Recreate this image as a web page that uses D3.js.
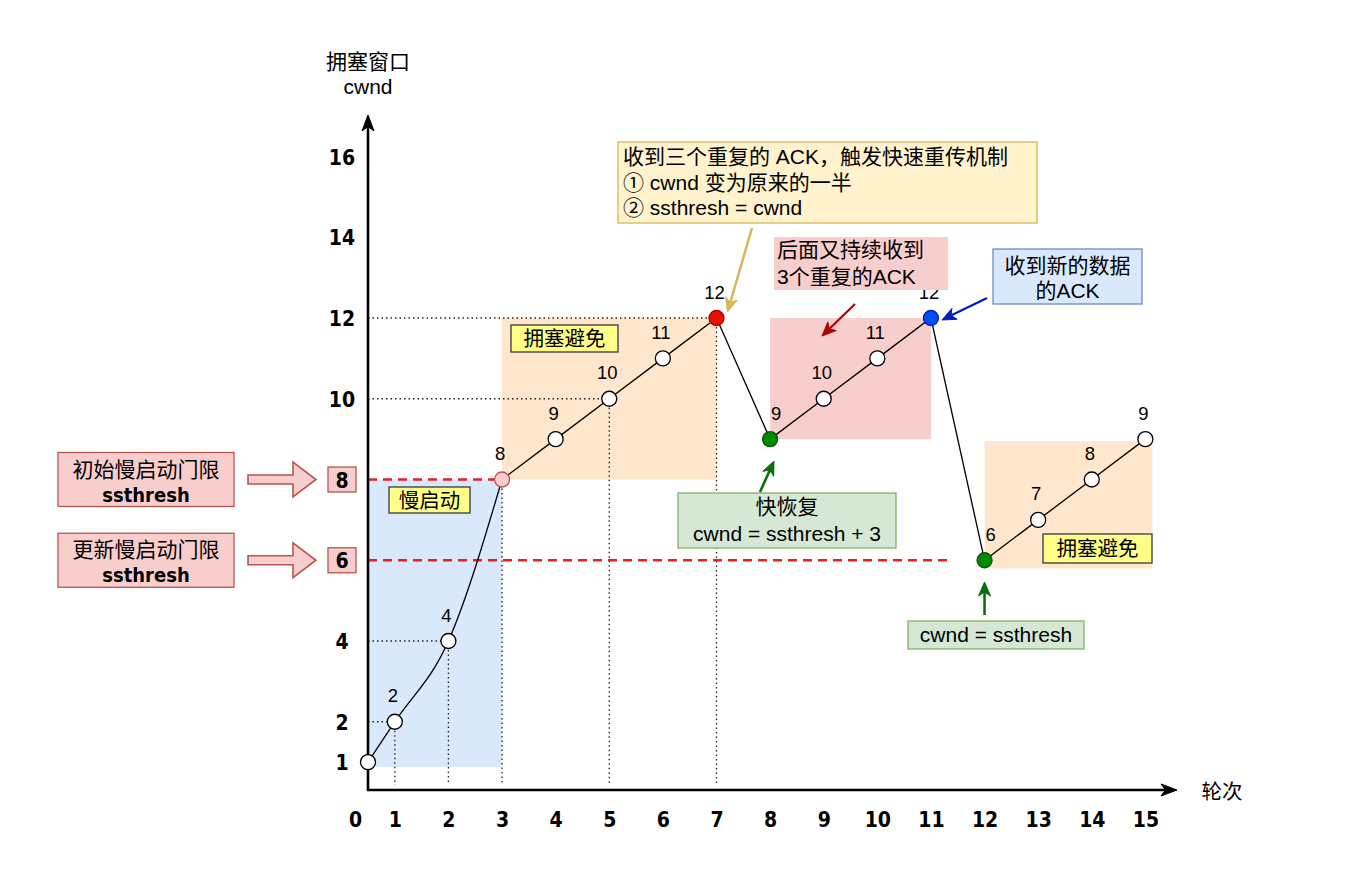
<!DOCTYPE html>
<html><head><meta charset="utf-8">
<script src="https://cdn.jsdelivr.net/npm/d3@7"></script>
<style>
html,body{margin:0;padding:0;background:#fff;}
svg{display:block;}
text{font-family:"Liberation Sans","Noto Sans CJK SC",sans-serif;fill:#000;}
.bold{font-family:"DejaVu Sans Condensed","DejaVu Sans",sans-serif;font-weight:bold;}
</style></head><body>
<svg id="chart" width="1355" height="871"></svg>
<script>
// ---------------- data ----------------
const rounds = [0,1,2,3,4,5,6,7,8,9,10,11,12,13,14,15];
const cwnd   = [1,2,4,8,9,10,11,12,9,10,11,12,6,7,8,9];
const xTickValues = [0,1,2,3,4,5,6,7,8,9,10,11,12,13,14,15];
const yTickValues = [1,2,4,6,8,10,12,14,16];
const ssthreshLevels = [8, 6];
const ssthreshEndRounds = [3, 11.3];
const ssthreshNotes = ["初始慢启动门限", "更新慢启动门限"];
const phaseNames  = ["慢启动", "拥塞避免", "快恢复", "拥塞避免"];
const phaseRounds = [[0,3],[3,7],[8,11],[12,15.13]];
const phaseCwnd   = [[0.88,8],[8,12],[9,12],[5.8,8.95]];
const guideRounds = [1,2,3,5,7];
const guideLevels = [2,4,10,12];
const eventIndex = {firstThreshold:3, tripleDupAck:7, fastRecovery:8, newAck:11, resetThreshold:12};

// ---------------- scales ----------------
const svg = d3.select("#chart");
const x = d3.scaleLinear().domain([0.5,16]).range([368,1199]).clamp(true);
const y = d3.scaleLinear().domain([0,16]).range([802.5,156.5]);
const AXIS_Y = 790, AXIS_TOP = 115, AXIS_RIGHT = 1177, GUIDE_BOTTOM = 785;

function arrow(g, x1, y1, x2, y2, color, w, len, half){
  const a = Math.atan2(y2-y1, x2-x1), c = Math.cos(a), s = Math.sin(a);
  const notch = len*0.72;
  g.append("line").attr("x1",x1).attr("y1",y1)
    .attr("x2",x2-c*notch).attr("y2",y2-s*notch)
    .attr("stroke",color).attr("stroke-width",w);
  const bx = x2-c*len, by = y2-s*len, px = -s, py = c;
  g.append("path")
    .attr("d",`M${x2},${y2}L${bx+px*half},${by+py*half}L${x2-c*notch},${y2-s*notch}L${bx-px*half},${by-py*half}Z`)
    .attr("fill",color).attr("stroke",color).attr("stroke-width",1);
}
function box(g, x0, y0, w, h, fill, stroke){
  g.append("rect").attr("x",x0).attr("y",y0).attr("width",w).attr("height",h)
    .attr("fill",fill).attr("stroke",stroke).attr("stroke-width",stroke==="none"?0:1.3);
}
function lines(g, arr, x0, baselines, anchor, size){
  return arr.map((t,i)=>g.append("text").attr("x",x0).attr("y",baselines[i]).attr("text-anchor",anchor)
      .attr("font-size",size).text(t));
}

// ---------------- phase regions ----------------
const phaseFill = ["#dae8fc","#ffe6cc","#f8cecc","#ffe6cc"];
svg.append("g").selectAll("rect").data(phaseNames).join("rect")
  .attr("x",(d,i)=>x(phaseRounds[i][0]))
  .attr("y",(d,i)=>y(phaseCwnd[i][1]))
  .attr("width",(d,i)=>x(phaseRounds[i][1])-x(phaseRounds[i][0]))
  .attr("height",(d,i)=>y(phaseCwnd[i][0])-y(phaseCwnd[i][1]))
  .attr("fill",(d,i)=>phaseFill[i]);

// ---------------- dotted guides ----------------
const guides = svg.append("g").attr("stroke","#222").attr("stroke-width",1.3).attr("stroke-dasharray","1.5,3");
guideRounds.forEach(r=>{
  const i = rounds.indexOf(r);
  guides.append("line").attr("x1",x(r)).attr("x2",x(r)).attr("y1",y(cwnd[i])).attr("y2",GUIDE_BOTTOM);
});
guideLevels.forEach(v=>{
  const i = cwnd.indexOf(v);
  guides.append("line").attr("x1",x(0)).attr("x2",x(rounds[i])).attr("y1",y(v)).attr("y2",y(v));
});

// ---------------- ssthresh lines ----------------
ssthreshLevels.forEach((v,k)=>{
  svg.append("line").attr("x1",x(0)).attr("x2",x(ssthreshEndRounds[k]))
    .attr("y1",y(v)).attr("y2",y(v))
    .attr("stroke","#ee1c1c").attr("stroke-width",2.3).attr("stroke-dasharray","9,6");
});

// ---------------- axes ----------------
const ax = svg.append("g");
ax.append("line").attr("x1",x(0)).attr("x2",x(0)).attr("y1",AXIS_Y+1).attr("y2",AXIS_TOP+12)
  .attr("stroke","#000").attr("stroke-width",2.6);
ax.append("line").attr("x1",x(0)-1).attr("x2",AXIS_RIGHT-12).attr("y1",AXIS_Y).attr("y2",AXIS_Y)
  .attr("stroke","#000").attr("stroke-width",2.6);
arrow(ax, x(0), AXIS_TOP+20, x(0), AXIS_TOP, "#000", 0.1, 16, 6);
arrow(ax, AXIS_RIGHT-20, AXIS_Y, AXIS_RIGHT, AXIS_Y, "#000", 0.1, 16, 6);

const xAxisG = svg.append("g").attr("transform","translate(0,827)")
  .call(d3.axisBottom(x).tickValues(xTickValues).tickSize(0).tickPadding(0));
xAxisG.select(".domain").remove();
xAxisG.selectAll("text").attr("y",0).attr("dy",null).attr("font-size",21)
  .attr("class","bold").attr("font-family",null).attr("fill","#000")
  .attr("x",d=>d===0?-13:0);

ssthreshLevels.forEach(v=>{
  box(svg, 328, y(v)-12.5, 28, 25, "#f8cecc", "#b85450");
});
const yAxisG = svg.append("g").attr("transform","translate(342,0)")
  .call(d3.axisLeft(y).tickValues(yTickValues).tickSize(0).tickPadding(0));
yAxisG.select(".domain").remove();
yAxisG.selectAll("text").attr("x",0).attr("dy","0.36em").attr("text-anchor","middle")
  .attr("font-size",21).attr("class","bold").attr("font-family",null).attr("fill","#000");

svg.append("text").attr("x",368).attr("y",69).attr("text-anchor","middle").attr("font-size",21).text("拥塞窗口");
svg.append("text").attr("x",368).attr("y",94).attr("text-anchor","middle").attr("font-size",21).text("cwnd");
svg.append("text").attr("x",1222).attr("y",799).attr("text-anchor","middle").attr("font-size",20.5).text("轮次");

// ---------------- cwnd line ----------------
const pts = rounds.map((r,i)=>({r, v:cwnd[i], i}));
const lineSlow = d3.line().x(d=>x(d.r)).y(d=>y(d.v)).curve(d3.curveMonotoneX);
const lineRest = d3.line().x(d=>x(d.r)).y(d=>y(d.v)).curve(d3.curveLinear);
svg.append("path").attr("d",lineSlow(pts.slice(0,eventIndex.firstThreshold+1)))
  .attr("fill","none").attr("stroke","#000").attr("stroke-width",1.3);
svg.append("path").attr("d",lineRest(pts.slice(eventIndex.firstThreshold)))
  .attr("fill","none").attr("stroke","#000").attr("stroke-width",1.3);

const pointStyle = {};
pointStyle[eventIndex.firstThreshold] = ["#f8cecc","#b85450"];
pointStyle[eventIndex.tripleDupAck]   = ["#e51400","#b20000"];
pointStyle[eventIndex.fastRecovery]   = ["#008a00","#005700"];
pointStyle[eventIndex.newAck]         = ["#0050ef","#001dbc"];
pointStyle[eventIndex.resetThreshold] = ["#008a00","#005700"];
svg.append("g").selectAll("circle").data(pts).join("circle")
  .attr("cx",d=>x(d.r)).attr("cy",d=>y(d.v)).attr("r",7.5)
  .attr("fill",d=>pointStyle[d.i]?pointStyle[d.i][0]:"#fff")
  .attr("stroke",d=>pointStyle[d.i]?pointStyle[d.i][1]:"#000").attr("stroke-width",1.3);
svg.append("g").selectAll("text").data(pts.filter(d=>d.i>0)).join("text")
  .attr("x",d=>x(d.r)+(cwnd[d.i-1]>d.v?6:-2)).attr("y",d=>y(d.v)-19.5)
  .attr("text-anchor","middle").attr("font-size",18.5).text(d=>d.v);

// ---------------- phase tags ----------------
const tags = svg.append("g");
[[0,389,487,81,26],[1,511,325,107,27],[3,1043,534,109,29]].forEach(([k,bx,by,bw,bh])=>{
  box(tags,bx,by,bw,bh,"#ffff88","#36393d");
  tags.append("text").attr("x",bx+bw/2).attr("y",by+bh/2+7.5).attr("text-anchor","middle")
    .attr("font-size",20.5).text(phaseNames[k]);
});

// ---------------- ssthresh notes (left) ----------------
const notes = svg.append("g");
ssthreshLevels.forEach((v,k)=>{
  const cy = y(v);
  box(notes, 58, cy-27, 176, 54, "#f8cecc", "#b85450");
  lines(notes, [ssthreshNotes[k]], 146, [cy-3], "middle", 21);
  lines(notes, ["ssthresh"], 146, [cy+22], "middle", 20)[0].attr("class","bold");
  notes.append("polygon")
    .attr("points",[[248,-4.5],[293,-4.5],[293,-17.5],[316,0],[293,17.5],[293,4.5],[248,4.5]].map(p=>`${p[0]},${p[1]+cy}`).join(" "))
    .attr("fill","#f8cecc").attr("stroke","#b85450").attr("stroke-width",1.6);
});

// ---------------- annotations ----------------
const ann = svg.append("g");
box(ann, 618, 142, 419, 81, "#fff2cc", "#d6b656");
lines(ann, ["收到三个重复的 ACK，触发快速重传机制","① cwnd 变为原来的一半","② ssthresh = cwnd"], 623, [164,190,215], "start", 21);
arrow(ann, 752, 228, x(rounds[eventIndex.tripleDupAck])+11, y(cwnd[eventIndex.tripleDupAck])-6, "#d6b656", 2.4, 14, 6);

box(ann, 774, 237, 174, 53, "#f8cecc", "none");
lines(ann, ["后面又持续收到","3个重复的ACK"], 777, [257,284], "start", 21);
arrow(ann, 855, 304, 822, 336, "#b20000", 2.2, 14, 6);

box(ann, 993, 249, 149, 55, "#dae8fc", "#6c8ebf");
lines(ann, ["收到新的数据","的ACK"], 1067.5, [273,298], "middle", 21);
arrow(ann, 987, 298, x(rounds[eventIndex.newAck])+11, y(cwnd[eventIndex.newAck])+2, "#001dbc", 2.2, 14, 6);

box(ann, 678, 493, 218, 55, "#d5e8d4", "#82b366");
lines(ann, ["快恢复","cwnd = ssthresh + 3"], 787, [514,541], "middle", 21);
arrow(ann, 760, 492, 774, 461, "#0b6e0b", 2.6, 14, 6);

box(ann, 908, 621, 176, 28, "#d5e8d4", "#82b366");
lines(ann, ["cwnd = ssthresh"], 996, [642], "middle", 21);
arrow(ann, x(rounds[eventIndex.resetThreshold]), 615, x(rounds[eventIndex.resetThreshold]), 582, "#0b6e0b", 2.6, 14, 6);
</script>
</body></html>
